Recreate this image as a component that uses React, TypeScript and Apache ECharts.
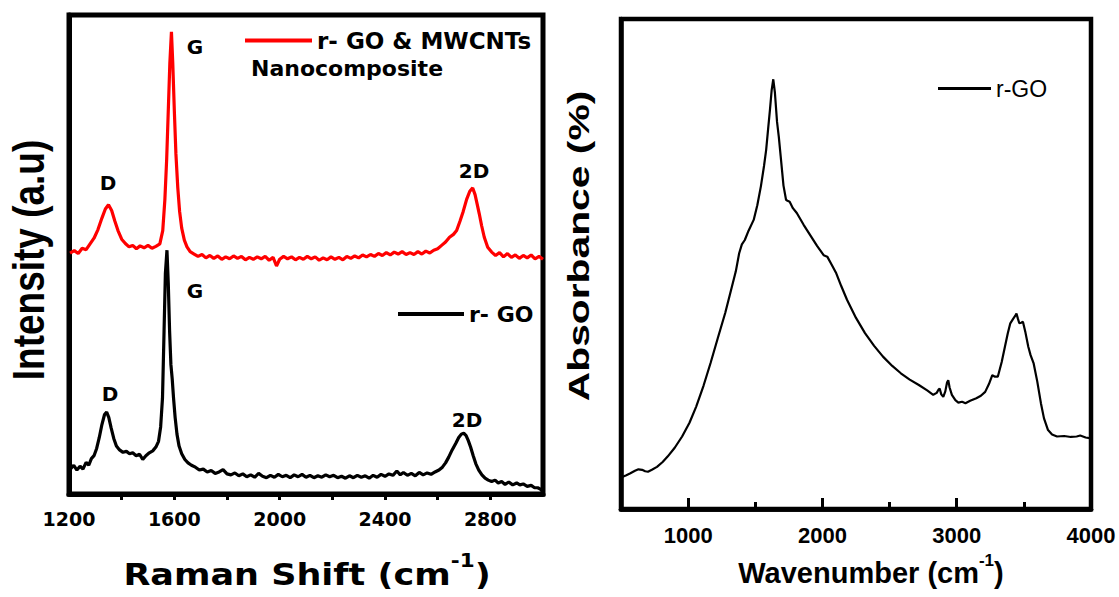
import React, { useEffect, useRef } from 'react';
import * as echarts from 'echarts';

// ---------- DATA ----------
const compositeName = 'r- GO & MWCNTs';
const rgoRamanName = 'r- GO';
const rgoFtirName = 'r-GO';

// Raman: r-GO & MWCNTs nanocomposite (offset spectrum, a.u.)
const ramanComposite: [number, number][] = [
  [1204, 50.3], [1220, 50.8], [1235, 50.2], [1250, 51.3], [1265, 51.0], [1280, 52.2], [1295, 53.4],
  [1310, 55.2], [1325, 57.6], [1338, 59.5], [1350, 60.4], [1362, 59.2], [1374, 57.0], [1386, 55.0],
  [1400, 53.2], [1414, 52.3], [1428, 51.6], [1442, 51.9], [1456, 51.2], [1470, 51.8], [1485, 51.4],
  [1500, 51.9], [1515, 51.3], [1530, 51.7], [1545, 52.2], [1556, 55.0], [1564, 61.4], [1571, 70.0],
  [1577, 80.0], [1583, 90.0], [1589, 96.5], [1594, 90.0], [1600, 80.0], [1606, 71.0], [1613, 64.0],
  [1620, 59.0], [1628, 55.5], [1638, 53.0], [1648, 51.6], [1660, 50.6], [1675, 50.1], [1690, 49.6],
  [1705, 50.0], [1720, 49.3], [1735, 49.8], [1750, 49.2], [1765, 49.7], [1780, 49.0], [1795, 49.5],
  [1810, 49.1], [1825, 49.7], [1840, 49.2], [1855, 49.6], [1870, 48.9], [1885, 49.4], [1900, 49.0],
  [1915, 49.5], [1930, 49.1], [1945, 49.6], [1960, 48.8], [1975, 49.4], [1988, 47.6], [2000, 49.0],
  [2015, 49.6], [2030, 49.1], [2045, 49.5], [2060, 48.9], [2075, 49.4], [2090, 49.0], [2105, 49.6],
  [2120, 49.1], [2135, 49.5], [2150, 48.8], [2165, 49.3], [2180, 48.9], [2195, 49.5], [2210, 49.0],
  [2225, 49.4], [2240, 48.9], [2255, 49.6], [2270, 49.2], [2285, 49.7], [2300, 49.3], [2315, 49.9],
  [2330, 49.5], [2345, 50.0], [2360, 49.6], [2375, 50.2], [2390, 49.8], [2405, 50.4], [2420, 49.9],
  [2435, 50.5], [2450, 50.1], [2465, 50.6], [2480, 50.0], [2495, 50.4], [2510, 50.0], [2525, 50.6],
  [2540, 50.1], [2555, 50.7], [2570, 50.3], [2585, 50.9], [2600, 51.2], [2615, 51.9], [2630, 52.6],
  [2645, 53.6], [2660, 54.2], [2672, 55.0], [2685, 57.0], [2697, 59.0], [2710, 61.5], [2722, 63.2],
  [2733, 63.9], [2742, 62.5], [2750, 60.5], [2758, 58.5], [2767, 56.0], [2777, 53.6], [2790, 51.5],
  [2805, 50.5], [2820, 49.8], [2835, 50.4], [2850, 49.5], [2865, 50.2], [2880, 49.4], [2895, 49.9],
  [2910, 49.2], [2925, 49.8], [2940, 49.3], [2955, 49.9], [2970, 49.1], [2985, 49.6], [3000, 49.0],
];

// Raman: r-GO
const ramanRGO: [number, number][] = [
  [1205, 5.2], [1218, 6.0], [1230, 5.0], [1242, 5.8], [1253, 5.2], [1265, 6.6], [1275, 6.0],
  [1285, 7.4], [1295, 8.0], [1305, 9.5], [1315, 11.8], [1325, 14.5], [1335, 16.6], [1343, 17.1],
  [1351, 16.0], [1360, 13.8], [1370, 11.6], [1380, 10.0], [1392, 9.2], [1405, 8.7], [1418, 8.9],
  [1430, 8.4], [1442, 8.6], [1455, 8.0], [1468, 8.3], [1480, 7.2], [1492, 8.0], [1505, 8.6],
  [1518, 9.0], [1530, 9.8], [1540, 11.0], [1548, 14.0], [1555, 20.0], [1561, 34.0], [1566, 46.0],
  [1572, 50.9], [1577, 44.0], [1582, 34.0], [1587, 27.0], [1592, 24.0], [1597, 20.0], [1603, 16.0],
  [1610, 12.5], [1618, 10.0], [1628, 8.4], [1640, 7.2], [1652, 6.5], [1665, 6.0], [1680, 5.6],
  [1695, 5.0], [1710, 5.2], [1725, 4.6], [1740, 4.9], [1755, 4.3], [1770, 4.6], [1785, 5.1],
  [1800, 4.2], [1815, 4.0], [1830, 4.4], [1845, 3.8], [1860, 4.2], [1875, 3.6], [1890, 4.0],
  [1905, 3.5], [1920, 4.3], [1935, 3.7], [1950, 3.4], [1965, 3.9], [1980, 3.5], [1995, 4.1],
  [2010, 3.6], [2025, 3.9], [2040, 3.4], [2055, 4.0], [2070, 3.6], [2085, 4.1], [2100, 3.5],
  [2115, 3.9], [2130, 3.4], [2145, 3.8], [2160, 3.5], [2175, 4.0], [2190, 3.6], [2205, 3.9],
  [2220, 3.4], [2235, 3.7], [2250, 3.3], [2265, 3.8], [2280, 3.4], [2295, 3.9], [2310, 3.5],
  [2325, 3.8], [2340, 3.3], [2355, 3.9], [2370, 3.5], [2385, 4.1], [2400, 3.7], [2415, 4.2],
  [2430, 3.9], [2445, 4.8], [2458, 4.0], [2470, 4.5], [2485, 3.9], [2500, 4.3], [2515, 3.8],
  [2530, 4.5], [2545, 4.0], [2560, 4.4], [2575, 4.1], [2590, 4.6], [2605, 5.0], [2618, 5.6],
  [2630, 6.5], [2642, 7.7], [2655, 9.2], [2669, 10.6], [2680, 11.8], [2690, 12.5], [2699, 12.7],
  [2708, 12.2], [2716, 11.2], [2725, 9.8], [2735, 8.0], [2745, 6.3], [2756, 5.0], [2768, 4.0],
  [2780, 3.3], [2792, 2.9], [2805, 2.6], [2818, 2.9], [2830, 2.3], [2843, 2.6], [2856, 2.0],
  [2870, 2.5], [2885, 1.9], [2900, 2.3], [2912, 1.9], [2925, 2.1], [2940, 1.6], [2955, 1.8],
  [2968, 1.3], [2980, 1.3], [2990, 1.0], [3000, 0.6],
];

// FTIR: r-GO absorbance
const ftirRGO: [number, number][] = [
  [500, 6.2], [513, 6.6], [540, 6.9], [570, 7.3], [604, 7.8], [630, 8.1], [657, 8.0], [680, 7.7],
  [701, 7.6], [730, 8.0], [768, 8.6], [810, 9.6], [847, 10.7], [900, 12.5], [955, 14.8], [1010, 17.6],
  [1060, 20.9], [1115, 25.2], [1167, 29.8], [1220, 34.8], [1276, 40.0], [1313, 44.0], [1355, 48.5],
  [1380, 52.2], [1400, 54.0], [1422, 54.9], [1450, 56.8], [1488, 59.0], [1515, 62.0], [1542, 65.9],
  [1565, 70.0], [1581, 73.3], [1597, 78.0], [1609, 81.4], [1622, 85.5], [1634, 87.7], [1646, 85.0],
  [1662, 79.0], [1675, 76.0], [1689, 72.0], [1710, 66.0], [1729, 63.1], [1740, 62.9], [1756, 62.7],
  [1780, 61.4], [1809, 60.4], [1860, 58.0], [1916, 55.6], [1960, 53.7], [2009, 51.8], [2036, 51.5],
  [2070, 49.8], [2103, 48.1], [2140, 45.5], [2183, 42.7], [2250, 39.0], [2317, 35.9], [2385, 33.3],
  [2451, 31.1], [2520, 29.2], [2584, 27.7], [2650, 26.4], [2718, 25.3], [2780, 24.2], [2825, 23.3],
  [2851, 23.7], [2865, 24.4], [2873, 24.6], [2885, 23.4], [2900, 22.9], [2915, 24.0], [2928, 25.8],
  [2937, 26.3], [2947, 24.8], [2964, 23.3], [2990, 22.2], [3012, 21.7], [3040, 21.9], [3065, 21.6],
  [3100, 22.1], [3146, 22.6], [3180, 23.1], [3212, 23.9], [3240, 25.5], [3265, 27.3], [3285, 27.0],
  [3306, 27.0], [3335, 30.0], [3359, 33.1], [3380, 35.8], [3399, 37.9], [3420, 38.8], [3435, 39.4],
  [3445, 39.9], [3455, 38.9], [3466, 37.9], [3480, 38.0], [3493, 38.2], [3512, 36.0], [3533, 33.1],
  [3550, 31.4], [3573, 29.7], [3600, 26.0], [3627, 21.6], [3650, 18.5], [3680, 16.1], [3710, 15.2],
  [3747, 14.8], [3800, 14.9], [3850, 14.7], [3893, 14.8], [3920, 15.0], [3960, 14.6], [4000, 14.4],
];

// Axis ticks / labels
const ramanLabelValues = [1200, 1600, 2000, 2400, 2800];
const ramanTickValues = [1400, 1600, 1800, 2000, 2200, 2400, 2600, 2800];
const ftirLabelValues = [1000, 2000, 3000, 4000];
const ftirMinorTickValues = [1500, 2500, 3500];

// Peak annotation texts
const peakTexts = ['G', 'D', '2D', 'G', 'D', '2D'];

export default function App() {
  const ref = useRef<HTMLDivElement>(null);

  useEffect(() => {
    if (!ref.current) return;
    const chart = echarts.init(ref.current, undefined, { renderer: 'svg' });

    const L = { left: 69, top: 15, width: 474, height: 479 };
    const R = { left: 621, top: 19, width: 470, height: 490 };

    const leftFont = 'DejaVu Sans';
    const rightFont = 'Liberation Sans';
    const plain = (v: number) => String(v);

    const annot = (x: number, y: number, text: string) => ({
      type: 'text',
      x,
      y,
      style: {
        text,
        fontFamily: leftFont,
        fontWeight: 'bold',
        fontSize: 20,
        fill: '#000',
        align: 'center',
        verticalAlign: 'middle',
        textAlign: 'center',
        textVerticalAlign: 'middle',
      },
    });

    const annotPos: [number, number][] = [
      [195, 47], [108, 183], [474, 171], [195, 291], [110, 394], [467, 420],
    ];

    const option: any = {
      animation: false,
      backgroundColor: '#fff',
      grid: [
        { ...L, show: true, borderColor: '#000', borderWidth: 5, backgroundColor: 'transparent' },
        { ...R, show: true, borderColor: '#000', borderWidth: 4.5, backgroundColor: 'transparent' },
      ],
      legend: [
        {
          data: [compositeName],
          left: 240,
          top: 24,
          icon: 'rect',
          itemWidth: 67,
          itemHeight: 4,
          textStyle: { fontFamily: leftFont, fontWeight: 'bold', fontSize: 23, color: '#000' },
        },
        {
          data: [rgoRamanName],
          left: 393,
          top: 298,
          icon: 'rect',
          itemWidth: 66,
          itemHeight: 4,
          textStyle: { fontFamily: leftFont, fontWeight: 'bold', fontSize: 22, color: '#000' },
        },
        {
          data: [rgoFtirName],
          left: 933,
          top: 72,
          icon: 'rect',
          itemWidth: 53,
          itemHeight: 3,
          textStyle: { fontFamily: rightFont, fontSize: 23, color: '#000' },
        },
      ],
      xAxis: [
        {
          type: 'value',
          gridIndex: 0,
          min: 1200,
          max: 3000,
          axisLine: { show: true, onZero: false, lineStyle: { color: '#000', width: 5 } },
          axisTick: { show: true, inside: false, length: 6, customValues: ramanTickValues, lineStyle: { color: '#000', width: 3 } },
          axisLabel: {
            show: true,
            customValues: ramanLabelValues,
            formatter: plain,
            margin: 15,
            color: '#000',
            fontFamily: leftFont,
            fontWeight: 'bold',
            fontSize: 19,
          },
          splitLine: { show: false },
        },
        {
          type: 'value',
          gridIndex: 1,
          min: 500,
          max: 4000,
          axisLine: { show: true, onZero: false, lineStyle: { color: '#000', width: 4.5 } },
          axisTick: { show: true, inside: true, length: 11, customValues: ftirLabelValues, lineStyle: { color: '#000', width: 3 } },
          axisLabel: {
            show: true,
            customValues: ftirLabelValues,
            formatter: plain,
            margin: 15,
            color: '#000',
            fontFamily: rightFont,
            fontWeight: 'bold',
            fontSize: 22,
          },
          splitLine: { show: false },
        },
        {
          type: 'value',
          gridIndex: 1,
          min: 500,
          max: 4000,
          position: 'bottom',
          axisLine: { show: true, onZero: false, lineStyle: { color: '#000', width: 4.5 } },
          axisTick: { show: true, inside: true, length: 7, customValues: ftirMinorTickValues, lineStyle: { color: '#000', width: 3 } },
          axisLabel: { show: false },
          splitLine: { show: false },
        },
      ],
      yAxis: [
        {
          type: 'value',
          gridIndex: 0,
          min: 0,
          max: 100,
          axisLine: { show: true, onZero: false, lineStyle: { color: '#000', width: 5 } },
          axisTick: { show: false },
          axisLabel: { show: false },
          splitLine: { show: false },
        },
        {
          type: 'value',
          gridIndex: 1,
          min: 0,
          max: 100,
          axisLine: { show: true, onZero: false, lineStyle: { color: '#000', width: 4.5 } },
          axisTick: { show: false },
          axisLabel: { show: false },
          splitLine: { show: false },
        },
      ],
      series: [
        {
          name: compositeName,
          type: 'line',
          xAxisIndex: 0,
          yAxisIndex: 0,
          data: ramanComposite,
          symbol: 'none',
          lineStyle: { color: '#ff0000', width: 3.2 },
          itemStyle: { color: '#ff0000' },
        },
        {
          name: rgoRamanName,
          type: 'line',
          xAxisIndex: 0,
          yAxisIndex: 0,
          data: ramanRGO,
          symbol: 'none',
          lineStyle: { color: '#000', width: 3.2 },
          itemStyle: { color: '#000' },
        },
        {
          name: rgoFtirName,
          type: 'line',
          xAxisIndex: 1,
          yAxisIndex: 1,
          data: ftirRGO,
          symbol: 'none',
          lineStyle: { color: '#000', width: 2.2 },
          itemStyle: { color: '#000' },
        },
      ],
      graphic: [
        ...peakTexts.map((t, i) => annot(annotPos[i][0], annotPos[i][1], t)),
        {
          type: 'text',
          left: 251,
          top: 57,
          style: {
            text: 'Nanocomposite',
            fontFamily: leftFont,
            fontWeight: 'bold',
            fontSize: 22,
            fill: '#000',
          },
        },
        {
          type: 'text',
          x: 29,
          y: 260,
          rotation: Math.PI / 2,
          scaleY: 1.2,
          style: {
            text: 'Intensity (a.u)',
            fontFamily: 'Liberation Sans',
            fontWeight: 'bold',
            fontSize: 37,
            fill: '#000',
            align: 'center',
            verticalAlign: 'middle',
            textAlign: 'center',
            textVerticalAlign: 'middle',
          },
        },
        {
          type: 'text',
          x: 579,
          y: 246,
          rotation: Math.PI / 2,
          scaleX: 1.36,
          style: {
            text: 'Absorbance (%)',
            fontFamily: 'Liberation Sans',
            fontWeight: 'bold',
            fontSize: 30,
            fill: '#000',
            align: 'center',
            verticalAlign: 'middle',
            textAlign: 'center',
            textVerticalAlign: 'middle',
          },
        },
        {
          type: 'text',
          x: 307,
          y: 574,
          scaleX: 1.13,
          style: {
            text: '{a|Raman Shift (cm}{s|-1}{a|)}',
            fill: '#000',
            align: 'center',
            verticalAlign: 'middle',
            textAlign: 'center',
            textVerticalAlign: 'middle',
            rich: {
              a: { fontFamily: leftFont, fontWeight: 'bold', fontSize: 31, lineHeight: 46, fill: '#000' },
              s: { fontFamily: leftFont, fontWeight: 'bold', fontSize: 19, lineHeight: 46, verticalAlign: 'top', fill: '#000' },
            },
          },
        },
        {
          type: 'text',
          x: 871,
          y: 573,
          style: {
            text: '{a|Wavenumber (cm}{s|-1}{a|)}',
            fill: '#000',
            align: 'center',
            verticalAlign: 'middle',
            textAlign: 'center',
            textVerticalAlign: 'middle',
            rich: {
              a: { fontFamily: rightFont, fontWeight: 'bold', fontSize: 29, lineHeight: 42, fill: '#000' },
              s: { fontFamily: rightFont, fontWeight: 'bold', fontSize: 17, lineHeight: 42, verticalAlign: 'top', fill: '#000' },
            },
          },
        },
      ],
    };

    chart.setOption(option);
    return () => chart.dispose();
  }, []);

  return (
    <div
      ref={ref}
      style={{ position: 'fixed', left: 0, top: 0, width: 1119, height: 597, background: '#fff' }}
    />
  );
}
